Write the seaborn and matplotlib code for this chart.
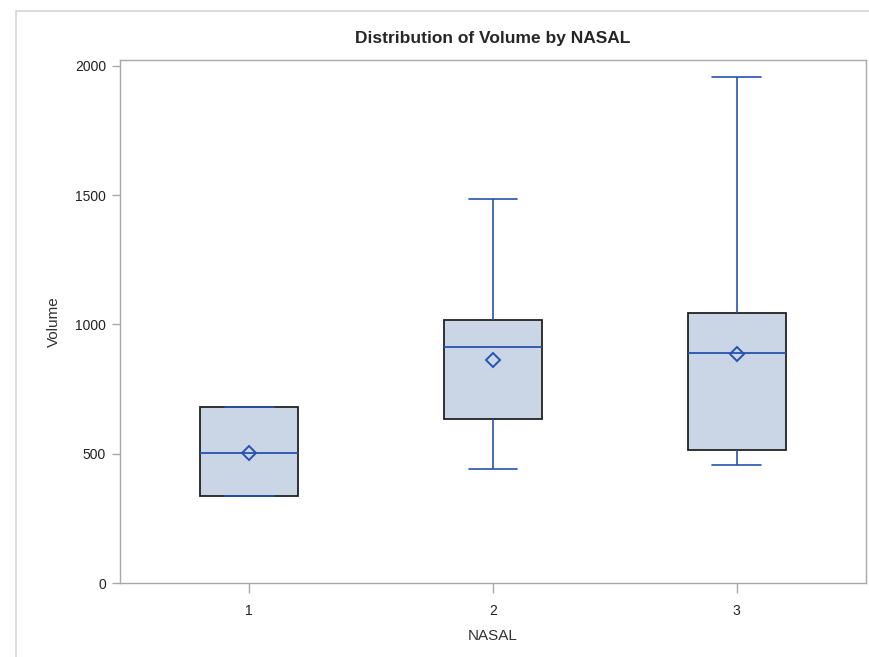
import numpy as np
import pandas as pd
import matplotlib
matplotlib.use("Agg")
import matplotlib.pyplot as plt
import seaborn as sns
from matplotlib.patches import Rectangle

nasal_1 = [337, 337, 337, 420, 504, 561, 680, 680, 680]
nasal_2 = [442, 500, 636, 700, 911, 950, 1018, 1137, 1485]
nasal_3 = [457, 480, 515, 600, 888, 920, 1045, 1096, 1957]
groups = ["1", "2", "3"]
y_ticks = [0, 500, 1000, 1500, 2000]

df = pd.DataFrame({
    "NASAL": ["1"] * len(nasal_1) + ["2"] * len(nasal_2) + ["3"] * len(nasal_3),
    "Volume": nasal_1 + nasal_2 + nasal_3,
})

sns.set_style("white")
plt.rcParams["font.family"] = ["Liberation Sans", "DejaVu Sans"]

blue = "#2553B0"
fill = "#CAD5E5"

fig = plt.figure(figsize=(8.69, 6.57), dpi=100)
ax = fig.add_axes([0.138, 0.1126, 0.8585, 0.7961])

sns.boxplot(
    data=df, x="NASAL", y="Volume", order=groups, ax=ax,
    color=fill, saturation=1, width=0.4, whis=(0, 100),
    linecolor=blue, linewidth=1.2,
    boxprops={"edgecolor": "#222222", "linewidth": 1.3},
    whiskerprops={"color": blue, "linewidth": 1.2},
    capprops={"color": blue, "linewidth": 1.2},
    medianprops={"color": blue, "linewidth": 1.3},
    showmeans=True,
    meanprops={"marker": "D", "markerfacecolor": "none", "markeredgecolor": blue,
               "markeredgewidth": 1.4, "markersize": 7},
)

ax.set_xlim(-0.53, 2.53)
ax.set_ylim(0, 2023)
ax.set_yticks(y_ticks)
ax.set_title("Distribution of Volume by NASAL", fontsize=12.5, fontweight="bold", pad=12)
ax.set_xlabel("NASAL", fontsize=11, labelpad=8, color="#333333")
ax.set_ylabel("Volume", fontsize=11, labelpad=10, color="#333333")

for s in ax.spines.values():
    s.set_color("#A8A8A8")
    s.set_linewidth(1)
ax.tick_params(axis="both", direction="out", length=6, width=1, color="#A8A8A8",
               labelsize=10, labelcolor="#222222", pad=4, bottom=True, left=True)
ax.tick_params(axis="x", length=7, pad=8)

# light outer frame like the original output
fig.add_artist(Rectangle((16 / 869, -0.01), 1.0, 1 - 11 / 657 + 0.01,
                         transform=fig.transFigure, fill=False,
                         edgecolor="#D4D4D4", linewidth=1.2))

fig.savefig("out.png", dpi=100)
